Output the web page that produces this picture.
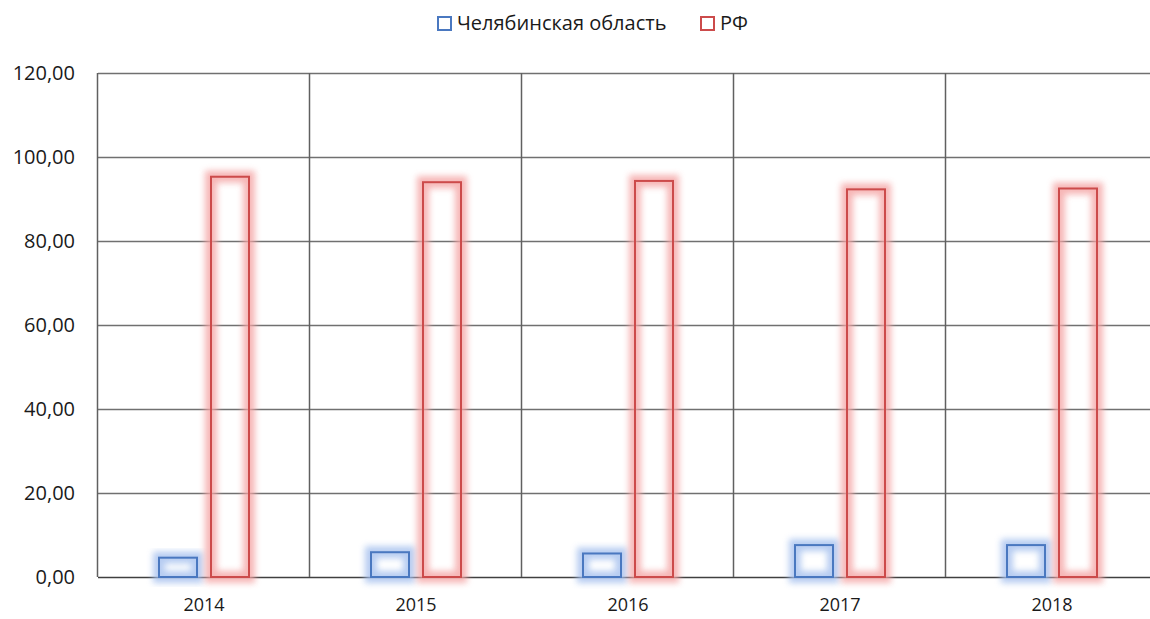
<!DOCTYPE html>
<html>
<head>
<meta charset="utf-8">
<script src="https://cdn.jsdelivr.net/npm/d3@7"></script>
<style>
  body { margin: 0; background: #fff; }
  svg { display: block; font-family: "Open Sans", "Noto Sans", sans-serif; }
</style>
</head>
<body>
<div id="chart"></div>
<script>
"use strict";

var years = ["2014", "2015", "2016", "2017", "2018"];
var chelyabinsk = [4.6, 5.9, 5.6, 7.6, 7.6];
var rf = [95.3, 94.0, 94.3, 92.3, 92.5];
var yTicks = [0, 20, 40, 60, 80, 100, 120];
var seriesNames = ["Челябинская область", "РФ"];

var width = 1150,
  height = 619,
  margin = { top: 73, right: -8, bottom: 42, left: 98 };

var colors = {
  blue: { stroke: "#4a78c0", glow: "#a4c0ee" },
  red: { stroke: "#cc4b4b", glow: "#f4a4a4" }
};

var svg = d3
  .select("#chart")
  .append("svg")
  .attr("width", width)
  .attr("height", height);

var defs = svg.append("defs");
defs
  .append("filter")
  .attr("id", "glow")
  .attr("x", "-50%")
  .attr("y", "-50%")
  .attr("width", "200%")
  .attr("height", "200%")
  .append("feGaussianBlur")
  .attr("stdDeviation", 3);

var x = d3
  .scaleBand()
  .domain(years)
  .range([margin.left, width - margin.right])
  .padding(0);

var y = d3
  .scaleLinear()
  .domain([0, 120])
  .range([height - margin.bottom, margin.top]);

// horizontal gridlines
svg
  .append("g")
  .selectAll("line")
  .data(yTicks)
  .join("line")
  .attr("x1", margin.left)
  .attr("x2", width - margin.right)
  .attr("y1", (d) => Math.round(y(d)) + 0.5)
  .attr("y2", (d) => Math.round(y(d)) + 0.5)
  .attr("stroke", (d) => (d === 0 ? "#404040" : "#707070"))
  .attr("stroke-width", 1.5);

// vertical gridlines at category boundaries
var bounds = years.map((d) => x(d)).concat([x(years[years.length - 1]) + x.bandwidth()]);
svg
  .append("g")
  .selectAll("line")
  .data(bounds)
  .join("line")
  .attr("x1", (d) => Math.round(d) - 0.5)
  .attr("x2", (d) => Math.round(d) - 0.5)
  .attr("y1", y(120))
  .attr("y2", y(0))
  .attr("stroke", "#606060")
  .attr("stroke-width", 1.5);

// y axis labels, right aligned like the original
svg
  .append("g")
  .selectAll("text")
  .data(yTicks)
  .join("text")
  .attr("x", 75)
  .attr("y", (d) => y(d))
  .attr("dy", "0.35em")
  .attr("text-anchor", "end")
  .attr("font-size", 20)
  .attr("fill", "#1a1a1a")
  .text((d) => d3.format(".2f")(d).replace(".", ","));

// x axis labels
svg
  .append("g")
  .selectAll("text")
  .data(years)
  .join("text")
  .attr("x", (d) => x(d) + x.bandwidth() / 2)
  .attr("y", 605)
  .attr("dy", "0.35em")
  .attr("text-anchor", "middle")
  .attr("font-size", 18)
  .attr("fill", "#1a1a1a")
  .text((d) => d);

var barW = 38,
  gap = 7;

var series = [
  { values: chelyabinsk, c: colors.blue, offset: -gap - barW },
  { values: rf, c: colors.red, offset: gap }
];

series.forEach(function (s) {
  var g = svg.append("g");
  var items = years.map((yr, i) => ({ yr: yr, v: s.values[i] }));
  // glow
  g.selectAll("rect.glow")
    .data(items)
    .join("rect")
    .attr("class", "glow")
    .attr("x", (d) => x(d.yr) + x.bandwidth() / 2 + s.offset)
    .attr("y", (d) => y(d.v))
    .attr("width", barW)
    .attr("height", (d) => y(0) - y(d.v))
    .attr("fill", "none")
    .attr("stroke", s.c.glow)
    .attr("stroke-width", 12)
    .attr("opacity", 0.8)
    .attr("filter", "url(#glow)");
  // outline
  g.selectAll("rect.bar")
    .data(items)
    .join("rect")
    .attr("class", "bar")
    .attr("x", (d) => x(d.yr) + x.bandwidth() / 2 + s.offset)
    .attr("y", (d) => y(d.v))
    .attr("width", barW)
    .attr("height", (d) => y(0) - y(d.v))
    .attr("fill", "none")
    .attr("stroke", s.c.stroke)
    .attr("stroke-width", 2);
});

// legend
var legend = svg.append("g");
var legendItems = [
  { name: seriesNames[0], c: colors.blue, x: 438 },
  { name: seriesNames[1], c: colors.red, x: 701 }
];
legendItems.forEach(function (d) {
  legend
    .append("rect")
    .attr("x", d.x)
    .attr("y", 17)
    .attr("width", 13)
    .attr("height", 13)
    .attr("fill", "none")
    .attr("stroke", d.c.stroke)
    .attr("stroke-width", 2);
  legend
    .append("text")
    .attr("x", d.x + 19)
    .attr("y", 23)
    .attr("dy", "0.35em")
    .attr("font-size", 20)
    .attr("fill", "#1a1a1a")
    .text(d.name);
});
</script>
</body>
</html>
